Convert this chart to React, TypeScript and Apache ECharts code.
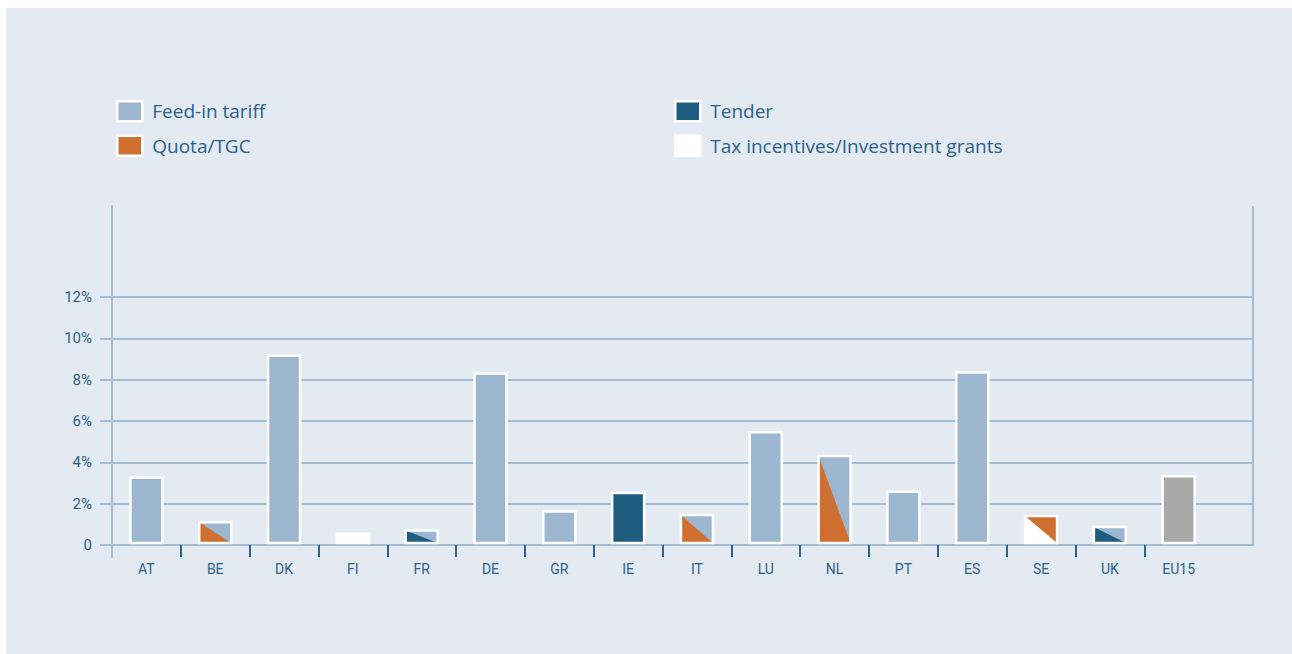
import React, { useEffect, useRef } from 'react';
import * as echarts from 'echarts';

const categories = ['AT', 'BE', 'DK', 'FI', 'FR', 'DE', 'GR', 'IE', 'IT', 'LU', 'NL', 'PT', 'ES', 'SE', 'UK', 'EU15'];
// share of renewable electricity growth (%)
const shares = [3.25, 1.1, 9.15, 0.55, 0.7, 8.3, 1.62, 2.52, 1.45, 5.45, 4.3, 2.58, 8.35, 1.4, 0.87, 3.33];
// instrument drawn in the lower-left triangle and in the upper-right triangle of each bar
const lowerInstrument = ['fit', 'quota', 'fit', 'tax', 'tender', 'fit', 'fit', 'tender', 'quota', 'fit', 'quota', 'fit', 'fit', 'tax', 'tender', 'avg'];
const upperInstrument = ['fit', 'fit', 'fit', 'tax', 'fit', 'fit', 'fit', 'tender', 'fit', 'fit', 'fit', 'fit', 'fit', 'quota', 'fit', 'avg'];
const yTicks = [0, 2, 4, 6, 8, 10, 12];
const legendLeft = ['Feed-in tariff', 'Quota/TGC'];
const legendRight = ['Tender', 'Tax incentives/Investment grants'];
const legendKeys = ['fit', 'quota', 'tender', 'tax'];
const legendNames = ['Feed-in tariff', 'Quota/TGC', 'Tender', 'Tax incentives/Investment grants'];

const COLORS: Record<string, string> = {
  fit: '#9cb7cf',
  quota: '#cf6f30',
  tender: '#1f5d80',
  tax: '#ffffff',
  avg: '#a9a9a9',
};
const TEXT = '#2c6189';
const GRIDC = '#a2bcd3';
const AXISFONT = "Roboto, 'Liberation Sans Narrow', sans-serif";

const X_MAX = 16.58;
const Y_MIN = -0.58;
const Y_MAX = 16.4;

export default function App() {
  const ref = useRef<HTMLDivElement>(null);
  useEffect(() => {
    if (!ref.current) return;
    const chart = echarts.init(ref.current, null, { renderer: 'svg' });
    const legendBase = {
      orient: 'vertical',
      top: 92,
      padding: 0,
      itemWidth: 25,
      itemHeight: 20,
      itemGap: 12,
      icon: 'rect',
      selectedMode: false,
      itemStyle: { borderColor: '#ffffff', borderWidth: 2.5 },
      textStyle: { fontFamily: "'Open Sans', sans-serif", fontSize: 19, color: TEXT, padding: [0, 0, 0, 5], lineHeight: 20 },
    };
    chart.setOption({
      animation: false,
      backgroundColor: '#e3eaf2',
      legend: [
        { ...legendBase, left: 110, data: legendLeft },
        { ...legendBase, left: 668, data: legendRight },
      ],
      grid: { left: 106, right: 39, top: 198, bottom: 97 },
      xAxis: {
        type: 'value',
        min: 0,
        max: X_MAX,
        axisLine: { show: true, onZero: true, lineStyle: { color: GRIDC, width: 2 } },
        axisTick: {
          show: true,
          length: 12,
          customValues: categories.slice(1).map((_, i) => i + 1),
          lineStyle: { color: TEXT, width: 2 },
        },
        axisLabel: {
          customValues: categories.map((_, i) => i + 0.5),
          formatter: (v: number) => categories[Math.round(v - 0.5)] ?? '',
          margin: 5,
          fontSize: 14,
          fontFamily: AXISFONT,
          color: TEXT,
        },
        splitLine: { show: false },
      },
      yAxis: {
        type: 'value',
        min: Y_MIN,
        max: Y_MAX,
        axisLine: { show: true, onZero: false, lineStyle: { color: GRIDC, width: 2 } },
        axisTick: { show: true, length: 12, customValues: yTicks, lineStyle: { color: GRIDC, width: 2 } },
        axisLabel: {
          customValues: yTicks,
          formatter: (v: number) => (v === 0 ? '0' : v + '%'),
          margin: 20,
          fontSize: 15,
          fontFamily: AXISFONT,
          color: TEXT,
        },
        splitLine: { show: true, lineStyle: { color: GRIDC, width: 2 } },
      },
      series: [
        ...legendKeys.map((k, i) => ({
          type: 'bar',
          name: legendNames[i],
          data: [],
          itemStyle: { color: COLORS[k], borderColor: '#ffffff', borderWidth: 2.5 },
        })),
        {
          type: 'custom',
          name: 'shares',
          data: shares.map((v, i) => [i, v]),
          encode: { x: 0, y: 1 },
          renderItem: (params: any, api: any) => {
            const i = api.value(0);
            const v = api.value(1);
            const top = api.coord([i + 0.5, v]);
            const base = api.coord([i + 0.5, 0]);
            const w = api.size([0.465, 0])[0];
            const x0 = top[0] - w / 2;
            const x1 = top[0] + w / 2;
            const y0 = top[1];
            const y1 = base[1] - 2;
            const lower = COLORS[lowerInstrument[i]];
            const upper = COLORS[upperInstrument[i]];
            const children: any[] = [
              { type: 'rect', shape: { x: x0, y: y0, width: w, height: y1 - y0 }, style: { fill: upper } },
            ];
            if (lower !== upper) {
              children.push({
                type: 'polygon',
                shape: { points: [[x0, y0], [x0, y1], [x1, y1]] },
                style: { fill: lower },
              });
            }
            children.push({
              type: 'rect',
              shape: { x: x0, y: y0, width: w, height: y1 - y0 },
              style: { fill: 'none', stroke: '#ffffff', lineWidth: 2.5 },
            });
            return { type: 'group', children };
          },
          markLine: {
            silent: true,
            symbol: ['none', 'none'],
            label: { show: false },
            lineStyle: { color: GRIDC, width: 2, type: 'solid' },
            data: [[{ coord: [X_MAX, 0] }, { coord: [X_MAX, Y_MAX] }]],
          },
        },
      ],
    });
    return () => chart.dispose();
  }, []);
  return (
    <div style={{ position: 'fixed', left: 6, top: 8, width: 1286, height: 646 }}>
      <div ref={ref} style={{ width: 1286, height: 646 }} />
    </div>
  );
}
